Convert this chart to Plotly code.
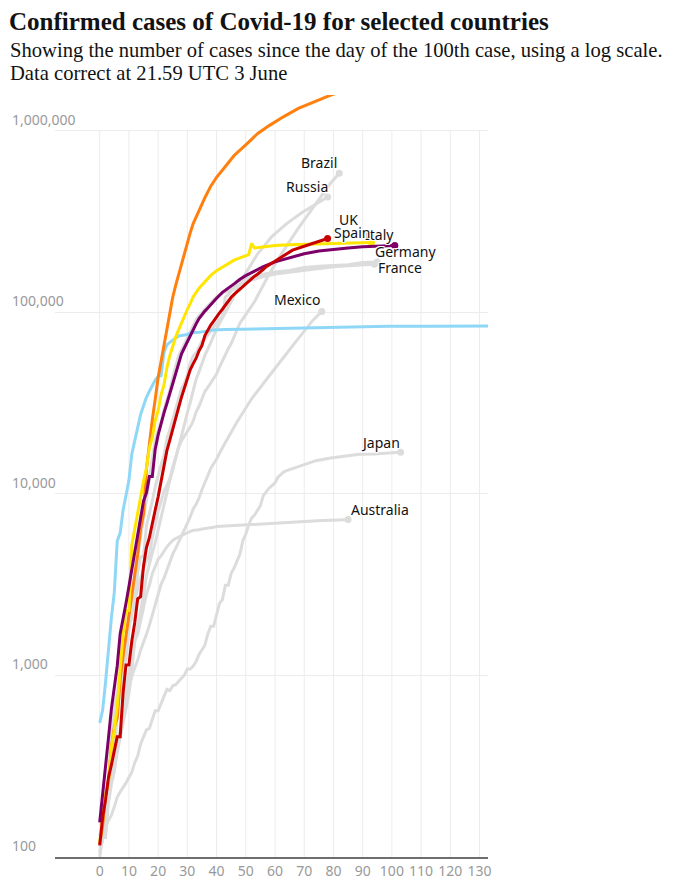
import math
import plotly.graph_objects as go

# days since the 100th case, and cumulative confirmed cases
us_days = list(range(0, 31)) + [31, 32, 34, 36, 38, 40, 43, 46, 50, 54, 58, 63, 68, 73, 78, 83, 88, 92]
us_cases = [118, 149, 217, 262, 402, 518, 583, 959, 1281, 1663, 2179, 2727, 3499, 4632, 6421, 7783,
            13747, 19273, 25600, 33276, 43847, 53740, 65778, 83836, 101657, 121465, 140909, 161831,
            188172, 213242, 243622,
            275367, 308650, 366317, 428654, 496535, 555313, 636350, 732197, 839000, 965000, 1070000,
            1200000, 1330000, 1440000, 1550000, 1660000, 1770000, 1850000]

italy_days = list(range(0, 41)) + [42, 44, 46, 48, 50, 53, 56, 60, 65, 70, 75, 80, 85, 90, 95, 101]
italy_cases = [155, 229, 322, 453, 655, 888, 1128, 1694, 2036, 2502, 3089, 3858, 4636, 5883, 7375, 9172,
               10149, 12462, 12462, 17660, 21157, 24747, 27980, 31506, 35713, 41035, 47021, 53578,
               59138, 63927, 69176, 74386, 80589, 86498, 92472, 97689, 101739, 105792, 110574,
               115242, 119827,
               128948, 135586, 143626, 152271, 159516, 168941, 178972, 189973, 199414, 210717,
               218268, 223096, 226699, 229858, 232248, 233836]

spain_days = list(range(0, 32)) + [32, 34, 36, 38, 40, 42, 44, 46, 48, 50, 51, 52, 53, 55, 60, 65, 70, 80, 93]
spain_cases = [120, 165, 222, 259, 400, 500, 673, 1073, 1695, 2277, 2277, 5232, 6391, 7798, 9942, 11748,
               13910, 17963, 20410, 25374, 28768, 35136, 39885, 49515, 57786, 65719, 73235, 80110,
               87956, 95923, 104118, 112065,
               122000, 136000, 148000, 160000, 170000, 178000, 185000, 194000, 200000, 205000,
               208389, 240000, 226000, 229000, 234000, 236000, 238000, 240000, 243000]

uk_days = list(range(0, 58)) + [61, 66, 71, 76, 78]
uk_cases = [116, 164, 207, 274, 322, 384, 459, 459, 802, 1144, 1145, 1551, 1960, 2642, 2716, 4014, 5067,
            5745, 6726, 8164, 9640, 11812, 14745, 17312, 19780, 22453, 25481, 29865, 34173, 38689,
            42477, 48436, 52279, 55949, 61474, 65872, 74605, 79874, 85206, 89570, 94845, 99483,
            104145, 109769, 115314, 121172, 125856, 130172, 134638, 139246, 144640, 149569, 154037,
            158348, 162350, 166441, 172481, 178685,
            195524, 220449, 234440, 249619, 255544]

china_days = list(range(0, 40)) + [43, 48, 53, 58, 63, 69, 79, 86, 99, 114, 130, 133]
china_cases = [548, 643, 920, 1406, 2075, 2877, 5509, 6087, 8141, 9802, 11891, 16630, 19716, 23707,
               27440, 30587, 34110, 36814, 39829, 42354, 44386, 44759, 59895, 66358, 68413, 70513,
               72434, 74211, 74619, 75077, 75550, 77001, 77022, 77241, 77754, 78166, 78600, 78928,
               79356, 79932,
               80565, 80921, 81048, 81250, 81661, 82279, 82941, 83760, 83956, 84038, 84128, 84160]

germany_days = list(range(0, 37)) + [38, 40, 42, 44, 46, 48, 50, 55, 60, 65, 70, 75, 80, 85, 91, 94]
germany_cases = [130, 159, 196, 262, 482, 670, 799, 1040, 1176, 1457, 1908, 2078, 3675, 4585, 5795, 7272,
                 9257, 12327, 15320, 19848, 22213, 24873, 29056, 32986, 37323, 43938, 50871, 57695,
                 62095, 66885, 71808, 77872, 84794, 91159, 96092, 100123, 103374,
                 113296, 122171, 127854, 131359, 137698, 143342, 147065, 156337, 163009, 167007,
                 171324, 175233, 178473, 180600, 183410, 184091]

france_days = list(range(0, 49)) + [50, 55, 60, 65, 70, 75, 80, 85, 90, 95]
france_cases = [100, 130, 191, 204, 288, 380, 656, 959, 1136, 1219, 1794, 2293, 2293, 3681, 4496, 4532,
                6683, 7715, 9124, 10970, 12758, 14463, 16243, 20123, 22622, 25600, 29551, 33402,
                38105, 40708, 45170, 52827, 57749, 59929, 65202, 69500, 71412, 75343, 79163, 83057,
                87366, 91738, 94863, 121712, 125394, 131361, 134582, 147969, 149149,
                152978, 161644, 167299, 170551, 176782, 179630, 181700, 182913, 188752, 189569]

brazil_days = list(range(0, 50)) + [53, 58, 63, 68, 73, 79, 82]
brazil_cases = [151, 151, 162, 200, 321, 372, 621, 793, 1021, 1546, 1924, 2247, 2554, 2985, 3417, 3904,
                4256, 4579, 5717, 6836, 8044, 9056, 10360, 11130, 12161, 14034, 16170, 18092, 19638,
                20727, 22192, 23430, 25262, 28320, 30425, 33682, 36658, 38654, 40743, 43079, 45757,
                50036, 54043, 59324, 63100, 67446, 73235, 79685, 87187, 92202,
                114715, 162699, 220291, 291579, 374898, 514849, 584016]

russia_days = list(range(0, 46)) + [49, 54, 59, 64, 69, 75, 78]
russia_cases = [114, 147, 199, 253, 306, 367, 438, 495, 658, 840, 1036, 1264, 1534, 1836, 2337, 2777,
                3548, 4149, 4731, 5389, 6343, 7497, 8672, 10131, 11917, 13584, 15770, 18328, 21102,
                24490, 27938, 32008, 36793, 42853, 47121, 52763, 57999, 62773, 68622, 74588, 80949,
                87147, 93558, 99399, 106498, 114431,
                155370, 209688, 262843, 308705, 353427, 405843, 432277]

mexico_days = list(range(0, 44)) + [47, 52, 57, 62, 67, 73, 76]
mexico_cases = [118, 164, 203, 251, 316, 367, 405, 475, 585, 717, 848, 993, 1094, 1215, 1378, 1510, 1688,
                1890, 2143, 2439, 2785, 3181, 3441, 3844, 4219, 4661, 5014, 5399, 5847, 6297, 6875,
                7497, 8261, 8772, 9501, 10544, 11633, 12872, 13842, 14677, 15529, 16752, 17799, 19224,
                24905, 33460, 42595, 54346, 68620, 90664, 101238]

japan_days = list(range(0, 71)) + [74, 79, 84, 89, 94, 100, 103]
japan_cases = [105, 122, 147, 159, 170, 189, 214, 228, 241, 256, 274, 293, 331, 360, 420, 461, 502, 511,
               581, 639, 639, 701, 773, 839, 825, 878, 889, 924, 963, 1007, 1086, 1086, 1128, 1193,
               1307, 1387, 1468, 1693, 1866, 1866, 2178, 2495, 2617, 3139, 3139, 3654, 3906, 4257,
               4667, 5530, 6005, 6748, 7370, 7645, 8100, 8626, 9787, 10296, 10797, 11135, 11512,
               12368, 12829, 13231, 13441, 13614, 13736, 13895, 14088, 14305, 14571,
               15253, 15798, 16203, 16550, 16581, 16911, 17000]

australia_days = list(range(0, 42)) + [46, 51, 56, 61, 66, 71, 76, 82, 85]
australia_cases = [107, 128, 128, 200, 250, 297, 377, 452, 568, 681, 791, 1071, 1549, 1682, 2044, 2364,
                   2810, 3143, 3640, 3984, 4361, 4559, 4862, 5116, 5330, 5550, 5687, 5797, 5895, 6010,
                   6108, 6215, 6303, 6315, 6351, 6415, 6440, 6462, 6522, 6547, 6610, 6625,
                   6714, 6766, 6849, 6941, 7019, 7081, 7133, 7193, 7229]

y_ticks = [100, 1000, 10000, 100000, 1000000]
x_ticks = list(range(0, 131, 10))

GREY = "#dcdcdc"
# name, days, cases, colour, label offset (px)
series = [
    ("Japan", japan_days, japan_cases, GREY, (-20, 10)),
    ("Australia", australia_days, australia_cases, GREY, (32, 10)),
    ("Mexico", mexico_days, mexico_cases, GREY, (-24, 12)),
    ("Russia", russia_days, russia_cases, GREY, (-21, 11)),
    ("Brazil", brazil_days, brazil_cases, GREY, (-20, 11)),
    ("Germany", germany_days, germany_cases, GREY, (31, 13)),
    ("France", france_days, france_cases, GREY, (23, -5)),
    ("China", china_days, china_cases, "#8fd7f7", (-19, 11)),
    ("US", us_days, us_cases, "#ff7f0f", None),
    ("Spain", spain_days, spain_cases, "#ffe500", (-19, 10)),
    ("Italy", italy_days, italy_cases, "#7d0068", (-15, 11)),
    ("UK", uk_days, uk_cases, "#c70000", (21, 19)),
]
label_order = ["Japan", "Australia", "Mexico", "China", "France", "Germany", "Italy", "Spain",
               "UK", "Russia", "Brazil"]

# layout in page pixels; the page body adds an 8px margin on the left and top
OFF = 8
W, H = 679 - OFF, 892 - 2 * OFF
plot_left, plot_right, plot_top, plot_bottom = 55 - OFF, 487.7 - OFF, 95 - OFF, 857 - OFF
L, R, T, B = plot_left, W - plot_right, plot_top, H - plot_bottom
pw, ph = plot_right - plot_left, plot_bottom - plot_top
xr = [-15.3, 132.9]
yr = [2, 6.198]

def px_x(px):
    return (px - OFF - L) / pw

def px_y(py):
    return (plot_bottom - (py - OFF)) / ph

fig = go.Figure()

halo = "1px 1px 0 #fff, -1px -1px 0 #fff, 1px -1px 0 #fff, -1px 1px 0 #fff, 0 1px 0 #fff, 0 -1px 0 #fff"
label_font = dict(family="Noto Sans, sans-serif", size=14, color="#121212", shadow=halo)

for name, d, c, col, off in series:
    fig.add_trace(go.Scatter(x=d, y=c, mode="lines", line=dict(color=col, width=3),
                             hoverinfo="skip", showlegend=False))
    if off is not None:
        fig.add_trace(go.Scatter(x=[d[-1]], y=[c[-1]], mode="markers", cliponaxis=False,
                                 marker=dict(color=col, size=7), hoverinfo="skip", showlegend=False))

by_name = {s[0]: s for s in series}
for name in label_order:
    _, d, c, col, off = by_name[name]
    fig.add_annotation(x=d[-1], y=math.log10(c[-1]), text=name, showarrow=False,
                       xanchor="center", yanchor="middle", xshift=off[0], yshift=off[1],
                       font=label_font)

# vertical grid lines, stopping at the 1,000,000 line
top = (math.log10(y_ticks[-1]) - yr[0]) / (yr[1] - yr[0])
for t in x_ticks:
    fig.add_shape(type="line", xref="x", yref="paper", x0=t, x1=t, y0=0, y1=top,
                  line=dict(color="#ececec", width=1), layer="below")

# y tick labels sit above their grid lines
for v in y_ticks:
    fig.add_annotation(xref="paper", yref="y", x=px_x(10), y=math.log10(v), text=f"{v:,}",
                       showarrow=False, xanchor="left", yanchor="bottom", yshift=0,
                       font=dict(family="Noto Sans, sans-serif", size=14, color="#999999"))

fig.add_annotation(xref="paper", yref="paper", x=px_x(8), y=px_y(21), xanchor="left", yanchor="middle",
                   text="<b>Confirmed cases of Covid-19 for selected countries</b>", showarrow=False,
                   borderpad=0, font=dict(family="Liberation Serif, serif", size=25, color="#121212"))
fig.add_annotation(xref="paper", yref="paper", x=px_x(8), y=px_y(50), xanchor="left", yanchor="middle",
                   text="Showing the number of cases since the day of the 100th case, using a log scale.",
                   showarrow=False, font=dict(family="Liberation Serif, serif", size=20.6, color="#121212"))
fig.add_annotation(xref="paper", yref="paper", x=px_x(8), y=px_y(73), xanchor="left", yanchor="middle",
                   text="Data correct at 21.59 UTC 3 June",
                   showarrow=False, font=dict(family="Liberation Serif, serif", size=20.6, color="#121212"))

fig.update_layout(
    width=W, height=H,
    margin=dict(l=L, r=R, t=T, b=B, pad=0, autoexpand=False),
    paper_bgcolor="white", plot_bgcolor="white",
    showlegend=False,
    xaxis=dict(range=xr, tickvals=x_ticks, showgrid=False, zeroline=False, automargin=False,
               showline=True, linecolor="#6e6e6e", linewidth=2, ticks="",
               tickfont=dict(family="Noto Sans, sans-serif", size=14, color="#999999")),
    yaxis=dict(type="log", range=yr, tickvals=y_ticks, showticklabels=False, automargin=False,
               showgrid=True, gridcolor="#ececec", gridwidth=1, zeroline=False, ticks=""),
)

fig.write_html("out.html")
